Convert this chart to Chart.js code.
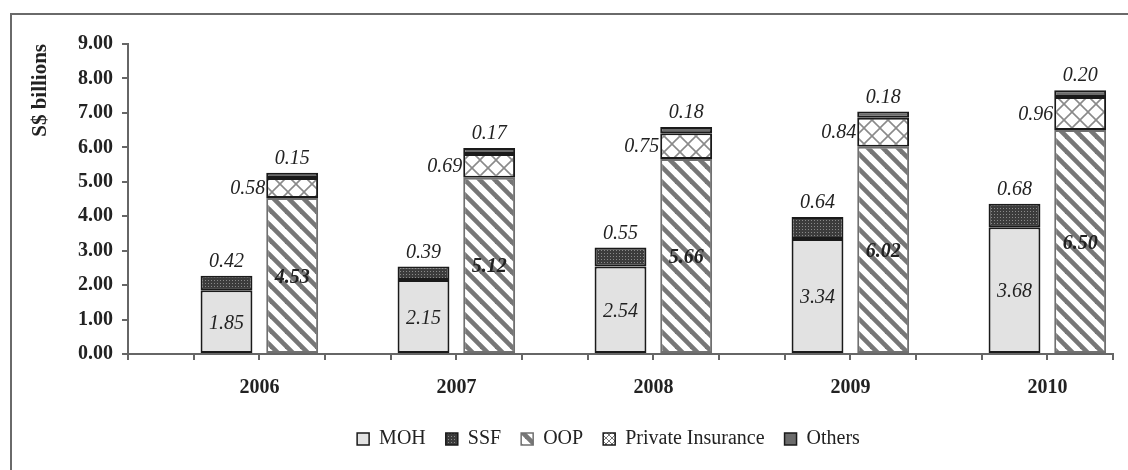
<!DOCTYPE html>
<html>
<head>
<meta charset="utf-8">
<script src="https://cdn.jsdelivr.net/npm/chart.js@4.4.1/dist/chart.umd.min.js"></script>
<style>
  html, body { margin: 0; padding: 0; background: #fff; }
  #wrap { position: relative; width: 1128px; height: 470px; overflow: hidden; }
  #frame { position: absolute; left: 10px; top: 13px; right: -4px; bottom: -4px;
           border-left: 2px solid #6a6a6a; border-top: 2px solid #6a6a6a; }
  #chart { position: absolute; left: 0; top: 0; }
</style>
</head>
<body>
<div id="wrap">
  <div id="frame"></div>
  <canvas id="chart" width="1128" height="470"></canvas>
</div>
<script>
// data (S$ billions)
const years = ['2006', '2007', '2008', '2009', '2010'];
const moh = [1.85, 2.15, 2.54, 3.34, 3.68];
const ssf = [0.42, 0.39, 0.55, 0.64, 0.68];
const oop = [4.53, 5.12, 5.66, 6.02, 6.50];
const privateIns = [0.58, 0.69, 0.75, 0.84, 0.96];
const others = [0.15, 0.17, 0.18, 0.18, 0.20];
const yTicks = [0, 1, 2, 3, 4, 5, 6, 7, 8, 9];

const SERIF = '"Liberation Serif", "Times New Roman", serif';

// each year takes three slots: empty, MOH/SSF column, OOP/insurance/others column
const slots = [];
years.forEach(y => { slots.push(y + '-gap', y + '-public', y + '-private'); });

function spread(values, pos) {
    const out = [];
    values.forEach(v => {
        for (let k = 0; k < 3; k++) out.push(k === pos ? v : null);
    });
    return out;
}

// fill patterns
function makePattern(size, draw) {
    const c = document.createElement('canvas');
    c.width = size; c.height = size;
    const g = c.getContext('2d');
    draw(g, size);
    return g.createPattern(c, 'repeat');
}

const ssfFill = makePattern(3, (g, s) => {
    g.fillStyle = '#3c3c3c';
    g.fillRect(0, 0, s, s);
    g.fillStyle = '#8a8a8a';
    g.fillRect(1, 1, 1, 1);
});

const oopFill = makePattern(15, (g, s) => {
    g.fillStyle = '#ffffff';
    g.fillRect(0, 0, s, s);
    g.strokeStyle = '#777777';
    g.lineWidth = 4.6;
    for (let k = -1; k <= 1; k++) {
        g.beginPath();
        g.moveTo(-2, k * s - 2);
        g.lineTo(s + 2, s + k * s + 2);
        g.stroke();
    }
});

const piFill = makePattern(16, (g, s) => {
    g.fillStyle = '#ffffff';
    g.fillRect(0, 0, s, s);
    g.strokeStyle = '#8a8a8a';
    g.lineWidth = 1.6;
    for (let k = -1; k <= 1; k++) {
        g.beginPath();
        g.moveTo(-2, k * s - 2);
        g.lineTo(s + 2, s + k * s + 2);
        g.stroke();
        g.beginPath();
        g.moveTo(-2, s - k * s + 2);
        g.lineTo(s + 2, -k * s - 2);
        g.stroke();
    }
});

// smaller crosshatch so the legend swatch shows the full X
const piLegendFill = makePattern(6, (g, s) => {
    g.fillStyle = '#ffffff';
    g.fillRect(0, 0, s, s);
    g.strokeStyle = '#777';
    g.lineWidth = 1;
    g.beginPath();
    g.moveTo(0, 0); g.lineTo(s, s);
    g.moveTo(s, 0); g.lineTo(0, s);
    g.stroke();
});

// value labels drawn from the bar elements
const valueLabels = {
    id: 'valueLabels',
    afterDatasetsDraw(chart) {
        const ctx = chart.ctx;
        ctx.save();
        ctx.fillStyle = '#222';
        chart.data.datasets.forEach((ds, di) => {
            const meta = chart.getDatasetMeta(di);
            meta.data.forEach((el, i) => {
                const v = ds.data[i];
                if (v === null) return;
                const txt = v.toFixed(2);
                const mid = (el.y + el.base) / 2;
                ctx.font = (ds.labelPos === 'centerBold' ? 'italic bold ' : 'italic ') + '20px ' + SERIF;
                if (ds.labelPos === 'center' || ds.labelPos === 'centerBold') {
                    ctx.textAlign = 'center';
                    ctx.textBaseline = 'middle';
                    ctx.fillText(txt, el.x, mid + 2);
                } else if (ds.labelPos === 'top') {
                    ctx.textAlign = 'center';
                    ctx.textBaseline = 'bottom';
                    ctx.fillText(txt, el.x, el.y - 4);
                } else if (ds.labelPos === 'left') {
                    ctx.textAlign = 'right';
                    ctx.textBaseline = 'middle';
                    ctx.fillText(txt, el.x - el.width / 2 - 1, mid + 1);
                }
            });
        });
        ctx.restore();
    }
};

// center the legend roughly under the plot area instead of the whole canvas
const legendUnderPlot = {
    id: 'legendUnderPlot',
    afterLayout(chart) {
        const l = chart.legend;
        const ca = chart.chartArea;
        const d = (ca.left + ca.right) / 2 - (l.left + l.right) / 2 - 12;
        l.left += d;
        l.right += d;
    }
};

const chart = new Chart(document.getElementById('chart').getContext('2d'), {
    type: 'bar',
    data: {
        labels: slots,
        datasets: [
            { label: 'MOH', data: spread(moh, 1), backgroundColor: '#e2e2e2',
              borderColor: '#1a1a1a', borderWidth: 2, labelPos: 'center' },
            { label: 'SSF', data: spread(ssf, 1), backgroundColor: ssfFill,
              borderColor: '#1a1a1a', borderWidth: 2, labelPos: 'top' },
            { label: 'OOP', data: spread(oop, 2), backgroundColor: oopFill,
              borderColor: '#707070', borderWidth: 2, labelPos: 'centerBold' },
            { label: 'Private Insurance', data: spread(privateIns, 2), backgroundColor: piFill,
              borderColor: '#1a1a1a', borderWidth: 2, labelPos: 'left' },
            { label: 'Others', data: spread(others, 2), backgroundColor: '#6b6b6b',
              borderColor: '#1a1a1a', borderWidth: 2, labelPos: 'top' }
        ]
    },
    options: {
        responsive: false,
        animation: false,
        layout: { padding: { left: 0, right: 15, top: 44, bottom: 11 } },
        datasets: { bar: { barPercentage: 0.79, categoryPercentage: 1, borderSkipped: false } },
        scales: {
            x: {
                stacked: true,
                offset: true,
                grid: { display: true, drawOnChartArea: false, drawTicks: true, tickLength: 6,
                        color: '#666', lineWidth: 2, offset: true },
                border: { display: true, color: '#666', width: 2 },
                ticks: {
                    autoSkip: false, maxRotation: 0, minRotation: 0,
                    padding: 16, labelOffset: 33,
                    color: '#222',
                    font: { family: SERIF, size: 20, weight: 'bold' },
                    callback: (v, i) => (i % 3 === 1 ? years[Math.floor(i / 3)] : '')
                },
                afterFit: s => { s.height = 55; }
            },
            y: {
                stacked: true,
                min: 0, max: 9,
                afterBuildTicks: s => { s.ticks = yTicks.map(v => ({ value: v })); },
                grid: { display: true, drawOnChartArea: false, drawTicks: true, tickLength: 6,
                        color: '#666', lineWidth: 2 },
                border: { display: true, color: '#666', width: 2 },
                ticks: {
                    padding: 9,
                    color: '#222',
                    font: { family: SERIF, size: 20, weight: 'bold' },
                    callback: v => Number(v).toFixed(2)
                },
                title: {
                    display: true, text: 'S$ billions', color: '#222', align: 'end',
                    font: { family: SERIF, size: 21, weight: 'bold' },
                    padding: { top: 28, bottom: 0 }
                },
                afterFit: s => { s.width = 128; }
            }
        },
        plugins: {
            legend: {
                position: 'bottom',
                labels: {
                    boxWidth: 12, boxHeight: 12, padding: 20,
                    color: '#222',
                    font: { family: SERIF, size: 20 },
                    generateLabels: chart => {
                        const items = Chart.defaults.plugins.legend.labels.generateLabels(chart);
                        items.forEach(it => {
                            if (it.text === 'Private Insurance') it.fillStyle = piLegendFill;
                            it.lineWidth = 1.5;
                        });
                        return items;
                    }
                }
            },
            tooltip: { enabled: false }
        }
    },
    plugins: [valueLabels, legendUnderPlot]
});
</script>
</body>
</html>
